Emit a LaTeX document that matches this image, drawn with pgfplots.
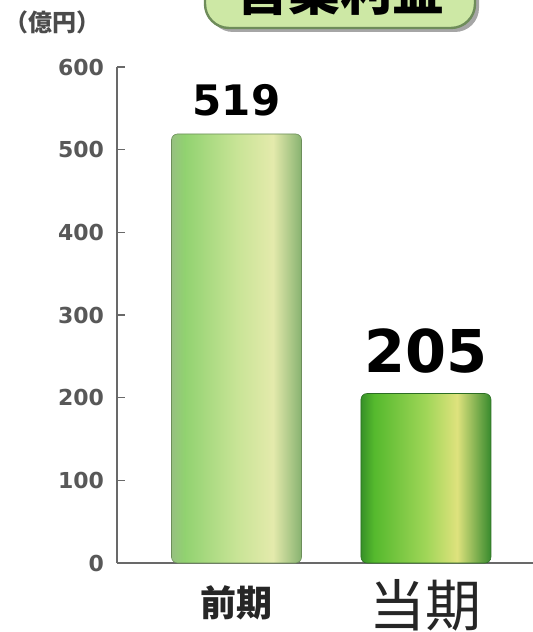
\documentclass[border=0pt]{standalone}
\usepackage{fontspec}
\setmainfont{Liberation Sans}
\newfontfamily\cjk{Noto Sans CJK JP}
\newfontfamily\dvb{DejaVu Sans}
\usepackage{pgfplots}
\pgfplotsset{compat=1.18}
\definecolor{axgray}{RGB}{105,105,105}
\definecolor{lblgray}{RGB}{75,75,75}
\definecolor{tkgray}{RGB}{88,88,88}
\definecolor{aA}{RGB}{150,192,128}
\definecolor{aB}{RGB}{145,210,112}
\definecolor{aC}{RGB}{200,228,150}
\definecolor{aD}{RGB}{228,234,172}
\definecolor{aE}{RGB}{135,178,112}
\definecolor{bA}{RGB}{55,145,40}
\definecolor{bB}{RGB}{85,185,45}
\definecolor{bC}{RGB}{160,214,88}
\definecolor{bD}{RGB}{222,226,125}
\definecolor{bE}{RGB}{55,138,45}
\definecolor{boxfill}{RGB}{205,232,165}
\definecolor{boxline}{RGB}{110,140,90}
\pgfdeclarehorizontalshading{barA}{100bp}{color(0bp)=(aA); color(25bp)=(aA); color(30bp)=(aB); color(50bp)=(aC); color(64bp)=(aD); color(75bp)=(aE); color(100bp)=(aE)}
\pgfdeclarehorizontalshading{barB}{100bp}{color(0bp)=(bA); color(25bp)=(bA); color(30bp)=(bB); color(50bp)=(bC); color(62bp)=(bD); color(75bp)=(bE); color(100bp)=(bE)}
\begin{document}
\begin{tikzpicture}
\begin{axis}[
  at={(58.5pt,34.5pt)}, anchor=south west,
  scale only axis, width=208pt, height=248pt,
  xmin=-0.631, xmax=1.565, ymin=0, ymax=600,
  axis x line*=bottom, axis y line*=left,
  axis line style={axgray, line width=1pt, -},
  ytick={0,100,...,600},
  ytick style={axgray, line width=0.8pt},
  tick align=inside, major tick length=4pt,
  yticklabel style={font=\dvb\bfseries\fontsize{11}{13}\selectfont, text=tkgray, xshift=-3pt},
  /pgf/number format/assume math mode=true,
  xtick={0,1},
  xticklabels={{\cjk\bfseries\fontsize{18}{20}\selectfont 前期},{\raisebox{-5pt}{\cjk\fontsize{28}{30}\selectfont 当期}}},
  x tick style={draw=none},
  xticklabel style={anchor=base, yshift=-22.5pt, text=black!85},
  ybar, bar width=65pt, bar shift=0pt,
  clip=false,
]
\addplot[draw=aE!80!black, line width=0.3pt, shading=barA, rounded corners=3pt,
  nodes near coords, nodes near coords style={font=\dvb\bfseries\fontsize{21}{22}\selectfont, text=black, inner sep=0pt, anchor=south, yshift=9pt}]
  coordinates {(0,519)};
\addplot[draw=bE!80!black, line width=0.3pt, shading=barB, rounded corners=3pt,
  nodes near coords, nodes near coords style={font=\dvb\bfseries\fontsize{29.5}{31}\selectfont, text=black, inner sep=0pt, anchor=south, yshift=10pt}]
  coordinates {(1,205)};
\end{axis}
% title box (partly cut off by the page edge, as in the reference)
\fill[black!35, rounded corners=12pt] (104.5pt,300pt) rectangle (239.5pt,345pt);
\draw[boxline, line width=1.2pt, fill=boxfill, rounded corners=12pt] (102.5pt,302pt) rectangle (237.5pt,345pt);
\node[anchor=base, inner sep=0pt, font=\cjk\bfseries\fontsize{26}{28}\selectfont] at (170pt,310.5pt) {営業利益};
\node[font=\cjk\bfseries\fontsize{12}{14}\selectfont, text=lblgray] at (26pt,305pt) {（億円）};
\pgfresetboundingbox
\useasboundingbox (0,0) rectangle (266.5pt,316pt);
\end{tikzpicture}
\end{document}
